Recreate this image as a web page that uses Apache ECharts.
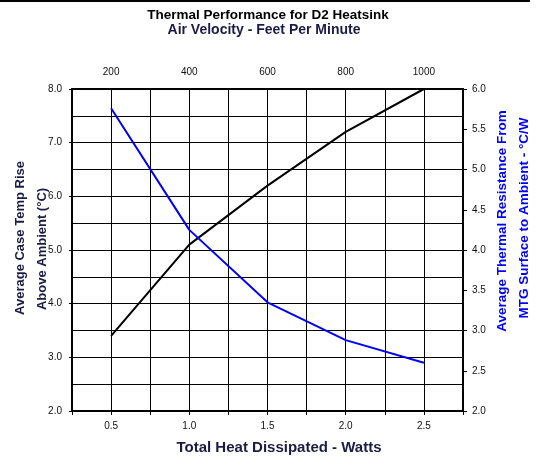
<!DOCTYPE html>
<html>
<head>
<meta charset="utf-8">
<script src="https://cdn.jsdelivr.net/npm/echarts@6/dist/echarts.min.js"></script>
<style>
  html, body { margin: 0; padding: 0; background: #fff; }
  #chart { width: 539px; height: 456px; }
</style>
</head>
<body>
<div id="chart"></div>
<script>
// heat dissipated (W) on the bottom axis
const watts = [0.5, 1.0, 1.5, 2.0, 2.5]
// left axis: case temp rise (°C)
const tempRise = [3.4, 5.1, 6.2, 7.2, 8.0]
// right axis: thermal resistance (°C/W)
const resistance = [5.76, 4.25, 3.35, 2.88, 2.6]
// top axis tick labels: air velocity (ft/min)
const velocityLabels = [200, 400, 600, 800, 1000]

const labelFont = { fontFamily: 'Liberation Sans, Arial, sans-serif', fontSize: 10, color: '#111' }
const titleColor = '#1b1b48'

const chart = echarts.init(document.getElementById('chart'))

const option = {
  animation: false,
  backgroundColor: '#fff',
  textStyle: { fontFamily: 'Liberation Sans, Arial, sans-serif' },
  title: [
    {
      text: 'Thermal Performance for D2 Heatsink',
      left: 268, top: 8, textAlign: 'center', padding: 0,
      textStyle: { fontSize: 13.5, fontWeight: 'bold', color: '#000' }
    },
    {
      text: 'Air Velocity - Feet Per Minute',
      left: 264, top: 23, textAlign: 'center', padding: 0,
      textStyle: { fontSize: 14, fontWeight: 'bold', color: titleColor }
    },
    {
      text: 'Total Heat Dissipated - Watts',
      left: 279, top: 440, textAlign: 'center', padding: 0,
      textStyle: { fontSize: 15, fontWeight: 'bold', color: titleColor }
    }
  ],
  graphic: [
    { type: 'rect', shape: { x: 0, y: 0, width: 530, height: 2 }, style: { fill: '#000' } },
    {
      type: 'text', x: 20, y: 238, rotation: Math.PI / 2,
      style: { text: 'Average Case Temp Rise', fill: titleColor, font: 'bold 13px Liberation Sans, Arial', align: 'center', verticalAlign: 'middle' }
    },
    {
      type: 'text', x: 42, y: 249, rotation: Math.PI / 2,
      style: { text: 'Above Ambient (°C)', fill: titleColor, font: 'bold 13px Liberation Sans, Arial', align: 'center', verticalAlign: 'middle' }
    },
    {
      type: 'text', x: 502, y: 221, rotation: Math.PI / 2,
      style: { text: 'Average Thermal Resistance From', fill: '#0000ff', font: 'bold 13.5px Liberation Sans, Arial', align: 'center', verticalAlign: 'middle' }
    },
    {
      type: 'text', x: 524, y: 218, rotation: Math.PI / 2,
      style: { text: 'MTG Surface to Ambient - °C/W', fill: '#0000ff', font: 'bold 13.5px Liberation Sans, Arial', align: 'center', verticalAlign: 'middle' }
    }
  ],
  grid: { left: 72, right: 76, top: 89, bottom: 45, containLabel: false },
  xAxis: [
    {
      type: 'value', position: 'bottom',
      min: 0.25, max: 2.75, interval: 0.25,
      axisLine: { show: true, lineStyle: { color: '#000', width: 2 } },
      axisTick: { show: true, length: 4, lineStyle: { color: '#000' } },
      splitLine: { show: true, lineStyle: { color: '#000', width: 1 } },
      axisLabel: Object.assign({
        margin: 10,
        formatter: function (v) {
          return Math.abs(v * 2 - Math.round(v * 2)) < 1e-6 ? v.toFixed(1) : ''
        }
      }, labelFont)
    },
    {
      type: 'value', position: 'top',
      min: 100, max: 1100, interval: 100,
      axisLine: { show: true, lineStyle: { color: '#000', width: 2 } },
      axisTick: { show: false },
      splitLine: { show: false },
      axisLabel: Object.assign({
        margin: 12,
        formatter: function (v) {
          return velocityLabels.indexOf(v) >= 0 ? String(v) : ''
        }
      }, labelFont)
    }
  ],
  yAxis: [
    {
      type: 'value', position: 'left',
      min: 2, max: 8, interval: 1,
      axisLine: { show: true, lineStyle: { color: '#000', width: 2 } },
      axisTick: { show: true, length: 3, lineStyle: { color: '#000' } },
      splitLine: { show: true, lineStyle: { color: '#000', width: 1 } },
      minorTick: { show: false, splitNumber: 2 },
      minorSplitLine: { show: true, lineStyle: { color: '#000', width: 1 } },
      axisLabel: Object.assign({ margin: 10, formatter: function (v) { return v.toFixed(1) } }, labelFont)
    },
    {
      type: 'value', position: 'right',
      min: 2, max: 6, interval: 0.5,
      axisLine: { show: true, lineStyle: { color: '#000', width: 2 } },
      axisTick: { show: true, length: 4, lineStyle: { color: '#000' } },
      splitLine: { show: false },
      axisLabel: Object.assign({ margin: 9, formatter: function (v) { return v.toFixed(1) } }, labelFont)
    }
  ],
  series: [
    {
      name: 'Average Case Temp Rise',
      type: 'line',
      xAxisIndex: 0, yAxisIndex: 0,
      data: watts.map(function (w, i) { return [w, tempRise[i]] }),
      showSymbol: false,
      lineStyle: { color: '#000', width: 2 },
      z: 3
    },
    {
      name: 'Average Thermal Resistance',
      type: 'line',
      xAxisIndex: 0, yAxisIndex: 1,
      data: watts.map(function (w, i) { return [w, resistance[i]] }),
      showSymbol: false,
      lineStyle: { color: '#0000ff', width: 2 },
      z: 4
    }
  ]
}

chart.setOption(option)
</script>
</body>
</html>
